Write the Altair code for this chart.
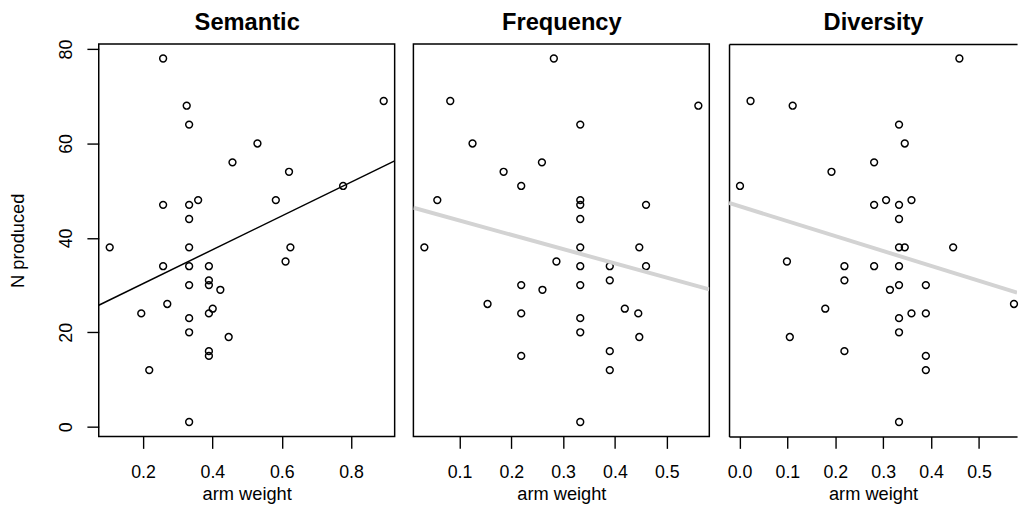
import altair as alt
import pandas as pd

FONT = "Liberation Sans"

# ---- data ----
sem_x = [0.258, 0.326, 0.333, 0.894, 0.530, 0.458, 0.621, 0.777, 0.258, 0.333, 0.359, 0.333,
         0.583, 0.104, 0.333, 0.625, 0.611, 0.258, 0.333, 0.390, 0.390, 0.390, 0.333, 0.423,
         0.270, 0.401, 0.195, 0.390, 0.333, 0.333, 0.447, 0.390, 0.390, 0.218, 0.333]
sem_n = [78, 68, 64, 69, 60, 56, 54, 51, 47, 47, 48, 44, 48, 38, 38, 38, 35, 34, 34, 34, 31,
         30, 30, 29, 26, 25, 24, 24, 23, 20, 19, 16, 15, 12, 1]

frq_x = [0.282, 0.082, 0.561, 0.333, 0.125, 0.259, 0.185, 0.219, 0.057, 0.333, 0.333, 0.460,
         0.333, 0.032, 0.333, 0.447, 0.287, 0.333, 0.390, 0.460, 0.390, 0.219, 0.333, 0.260,
         0.154, 0.419, 0.219, 0.445, 0.333, 0.333, 0.447, 0.390, 0.219, 0.390, 0.333]
frq_n = [78, 69, 68, 64, 60, 56, 54, 51, 48, 48, 47, 47, 44, 38, 38, 38, 35, 34, 34, 34, 31,
         30, 30, 29, 26, 25, 24, 24, 23, 20, 19, 16, 15, 12, 1]

div_x = [0.459, 0.023, 0.111, 0.333, 0.345, 0.281, 0.192, 0.001, 0.306, 0.359, 0.281, 0.333,
         0.333, 0.333, 0.345, 0.446, 0.099, 0.219, 0.281, 0.333, 0.219, 0.333, 0.389, 0.314,
         0.179, 0.573, 0.333, 0.359, 0.389, 0.333, 0.105, 0.219, 0.389, 0.389, 0.333]
div_n = [78, 69, 68, 64, 60, 56, 54, 51, 48, 48, 47, 47, 44, 38, 38, 38, 35, 34, 34, 34, 31,
         30, 30, 29, 25, 26, 23, 24, 24, 20, 19, 16, 15, 12, 1]

titles = ["Semantic", "Frequency", "Diversity"]
x_ticks_sem = [0.2, 0.4, 0.6, 0.8]
x_ticks_frq = [0.1, 0.2, 0.3, 0.4, 0.5]
x_ticks_div = [0.0, 0.1, 0.2, 0.3, 0.4, 0.5]
y_ticks = [0, 20, 40, 60, 80]


def r_domain(vals):
    lo, hi = min(vals), max(vals)
    pad = (hi - lo) * 0.04
    return [lo - pad, hi + pad]


Y_DOMAIN = r_domain(sem_n)
W, H = 300, 398
W3 = 292  # last panel is cut by the page edge, as in the reference
LW = 1.5


def panel(title, xs, ns, ticks, line_color, line_width, first, width, cut):
    df = pd.DataFrame({"arm": xs, "n": ns})
    dom = r_domain(xs)
    if width != W:
        dom = [dom[0], dom[0] + (dom[1] - dom[0]) * width / W]
    xscale = alt.Scale(domain=dom, nice=False, zero=False)
    x_bottom = alt.X(
        "arm:Q", scale=xscale,
        axis=alt.Axis(orient="bottom", values=ticks, format=".1f", title="arm weight",
                      labelPadding=16, titleY=64, titleBaseline="alphabetic",
                      domain=cut, domainColor="black", domainWidth=LW),
    )
    x_top = alt.X(
        "arm:Q", scale=xscale,
        axis=alt.Axis(orient="top", labels=False, ticks=False, title=title,
                      titleFontSize=24, titleFontWeight="bold", titleY=-14.3,
                      titleBaseline="alphabetic", domain=cut, domainColor="black",
                      domainWidth=LW),
    )
    if first:
        y_axis = alt.Axis(values=y_ticks, title="N produced", labelAngle=270,
                          labelAlign="center", labelBaseline="alphabetic",
                          labelPadding=15.6, titleAngle=270, titleX=-75.8,
                          titleY=H / 2, titleBaseline="alphabetic", titleAlign="center")
    elif cut:
        y_axis = alt.Axis(labels=False, ticks=False, title=None, domain=True,
                          domainColor="black", domainWidth=LW)
    else:
        y_axis = None
    y_enc = alt.Y("n:Q", scale=alt.Scale(domain=Y_DOMAIN, nice=False, zero=False),
                  axis=y_axis)
    y_plain = alt.Y("n:Q", scale=alt.Scale(domain=Y_DOMAIN, nice=False, zero=False),
                    axis=None)
    base = alt.Chart(df)
    pts = base.mark_point(shape="circle", filled=False, color="black", size=48,
                          strokeWidth=1.5, opacity=1).encode(x=x_bottom, y=y_enc)
    line = base.transform_regression(on="arm", regression="n", extent=dom).mark_line(
        color=line_color, strokeWidth=line_width, clip=True).encode(x=x_top, y=y_plain)
    props = dict(width=width, height=H)
    if cut:
        props["view"] = alt.ViewBackground(stroke=None)
    return alt.layer(pts, line).resolve_axis(x="independent", y="independent").properties(**props)


p1 = panel(titles[0], sem_x, sem_n, x_ticks_sem, "black", 1.5, True, W, False)
p2 = panel(titles[1], frq_x, frq_n, x_ticks_frq, "#d3d3d3", 4, False, W, False)
p3 = panel(titles[2], div_x, div_n, x_ticks_div, "#d3d3d3", 4, False, W3, True)

chart = alt.hconcat(p1, p2, p3, spacing=17).properties(
    padding={"left": 0, "top": -2, "right": 0, "bottom": 0}, background="white"
).configure_view(
    stroke="black", strokeWidth=LW
).configure_axis(
    domain=False, grid=False, tickColor="black", tickSize=12, tickWidth=1.4,
    labelFont=FONT, labelFontSize=18, labelColor="black",
    titleFont=FONT, titleFontSize=18.5, titleFontWeight="normal", titleColor="black",
)

chart.save("out.html", embed_options={"renderer": "svg", "actions": False})
